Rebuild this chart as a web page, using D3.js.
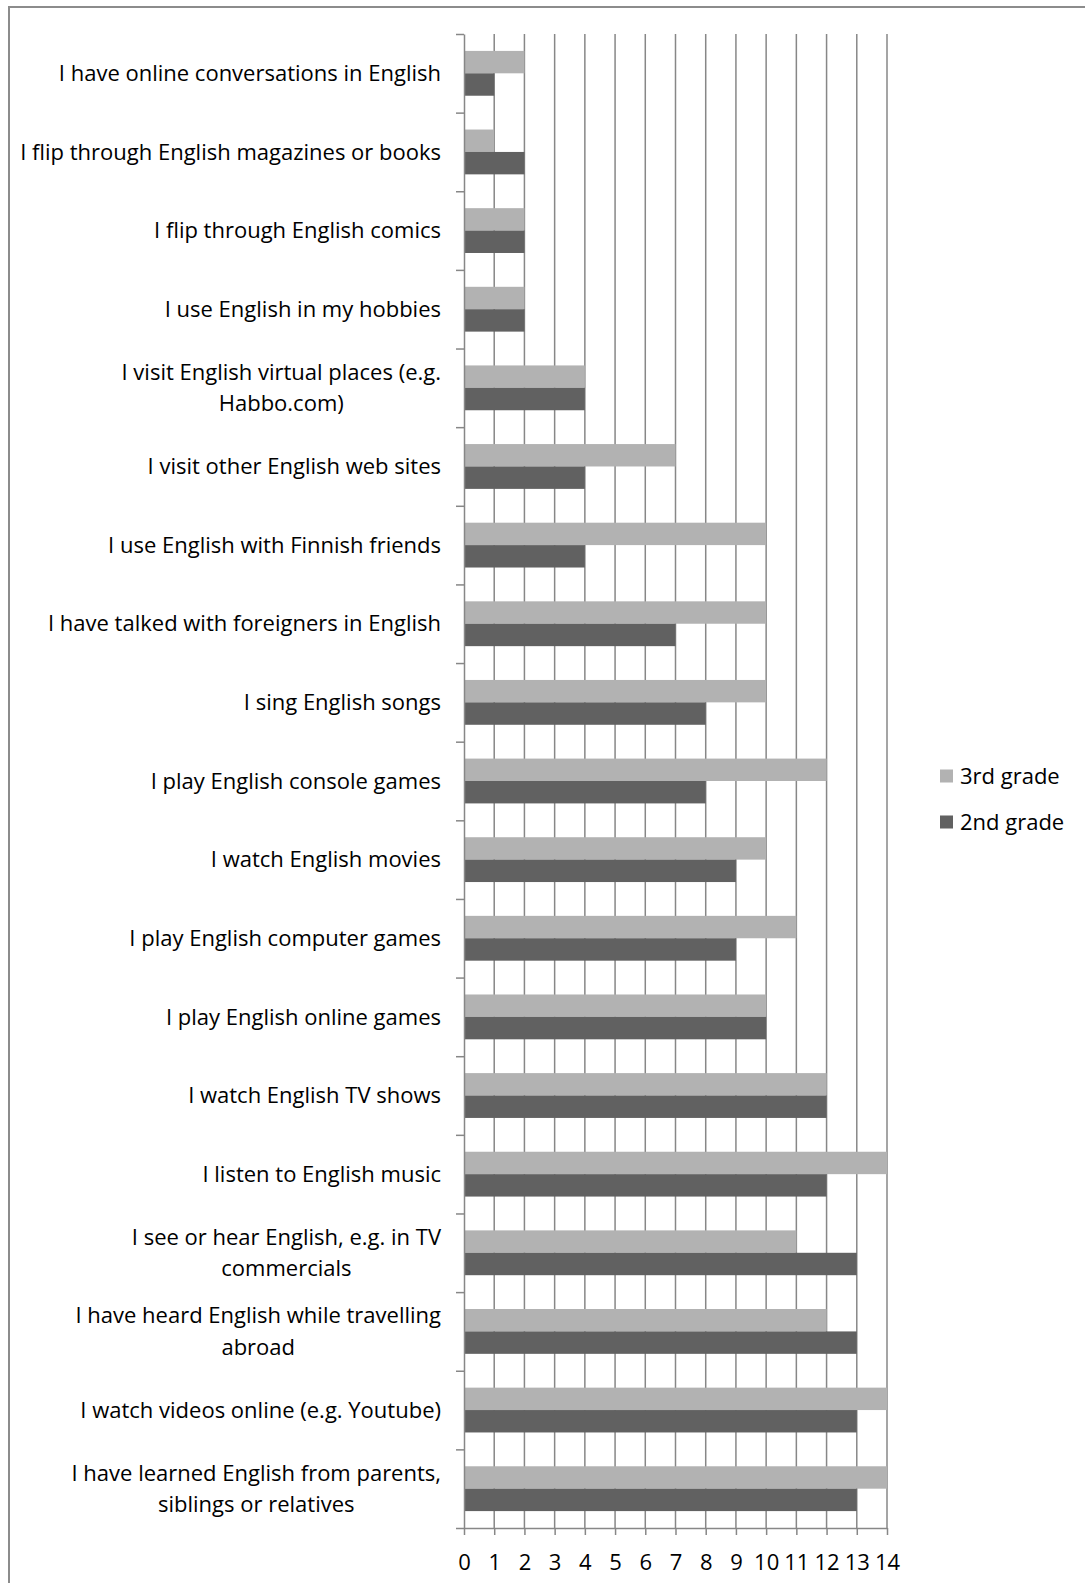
<!DOCTYPE html>
<html>
<head>
<meta charset="utf-8">
<script src="https://cdn.jsdelivr.net/npm/d3@7"></script>
<style>
  html, body { margin: 0; padding: 0; background: #fff; }
  svg { display: block; }
  text { font-family: "Open Sans", sans-serif; fill: #000; }
</style>
</head>
<body>
<svg id="chart" width="1085" height="1583"></svg>
<script>
// ---- data ----
const categories = [
  ["I have online conversations in English"],
  ["I flip through English magazines or books"],
  ["I flip through English comics"],
  ["I use English in my hobbies"],
  ["I visit English virtual places (e.g.", "Habbo.com)"],
  ["I visit other English web sites"],
  ["I use English with Finnish friends"],
  ["I have talked with foreigners in English"],
  ["I sing English songs"],
  ["I play English console games"],
  ["I watch English movies"],
  ["I play English computer games"],
  ["I play English online games"],
  ["I watch English TV shows"],
  ["I listen to English music"],
  ["I see or hear English, e.g. in TV", "commercials"],
  ["I have heard English while travelling", "abroad"],
  ["I watch videos online (e.g. Youtube)"],
  ["I have learned English from parents,", "siblings or relatives"]
];
const seriesNames = ["3rd grade", "2nd grade"];
const grade3 = [2, 1, 2, 2, 4, 7, 10, 10, 10, 12, 10, 11, 10, 12, 14, 11, 12, 14, 14];
const grade2 = [1, 2, 2, 2, 4, 4, 4, 7, 8, 8, 9, 9, 10, 12, 12, 13, 13, 13, 13];
const xTicks = d3.range(0, 15);

// ---- layout ----
const colors = {"3rd grade": "#b2b2b2", "2nd grade": "#616161"};
const gridColor = "#878787";
const plot = {left: 464, right: 887, top: 34, bottom: 1528};
const fontSize = 22;

const svg = d3.select("#chart");

// outer border
svg.append("rect")
  .attr("x", 9).attr("y", 7).attr("width", 1100).attr("height", 1600)
  .attr("fill", "none").attr("stroke", "#8c8c8c").attr("stroke-width", 2);

const x = d3.scaleLinear().domain([0, 14]).range([plot.left, plot.right]);
const idx = d3.range(categories.length);
const y = d3.scaleBand().domain(idx).range([plot.top, plot.bottom])
  .paddingInner(0.43).paddingOuter(0.215);
const ySub = d3.scaleBand().domain(seriesNames).range([0, y.bandwidth()]);
const yEdge = d3.scaleLinear().domain([0, categories.length]).range([plot.top, plot.bottom]);

// gridlines
svg.append("g").selectAll("line").data(xTicks.filter(d => d > 0)).join("line")
  .attr("x1", d => x(d)).attr("x2", d => x(d))
  .attr("y1", plot.top).attr("y2", plot.bottom)
  .attr("stroke", gridColor).attr("stroke-width", 1.5);

// bars
const rows = idx.map(i => ({i, vals: [
  {s: "3rd grade", v: grade3[i]},
  {s: "2nd grade", v: grade2[i]}
]}));
const g = svg.append("g").selectAll("g").data(rows).join("g")
  .attr("transform", d => `translate(0,${y(d.i)})`);
g.selectAll("rect").data(d => d.vals).join("rect")
  .attr("x", x(0))
  .attr("y", d => ySub(d.s))
  .attr("width", d => x(d.v) - x(0))
  .attr("height", ySub.bandwidth())
  .attr("fill", d => colors[d.s]);

// bottom axis
const xAxis = svg.append("g")
  .attr("transform", `translate(0,${plot.bottom})`)
  .call(d3.axisBottom(x).tickValues(xTicks).tickFormat(d3.format("d")).tickSize(7).tickSizeOuter(0));
xAxis.select(".domain").attr("stroke", gridColor).attr("stroke-width", 1.5);
xAxis.selectAll(".tick line").attr("stroke", gridColor).attr("stroke-width", 1.5);
xAxis.selectAll(".tick text")
  .attr("font-family", "Open Sans").attr("font-size", fontSize)
  .attr("fill", "#000").attr("y", 26).attr("dy", "0.71em");

// left axis (ticks at category boundaries)
const yAxis = svg.append("g")
  .attr("transform", `translate(${plot.left},0)`)
  .call(d3.axisLeft(yEdge).tickValues(d3.range(categories.length + 1)).tickFormat("").tickSize(8).tickSizeOuter(0));
yAxis.select(".domain").attr("stroke", gridColor).attr("stroke-width", 1.5);
yAxis.selectAll(".tick line").attr("stroke", gridColor).attr("stroke-width", 1.5);

// category labels
const labelRight = 441;
const lineH = 31.5;
const labels = svg.append("g").attr("font-size", fontSize);
idx.forEach(i => {
  const lines = categories[i];
  const cy = y(i) + y.bandwidth() / 2;
  const t = labels.append("text").attr("text-anchor", "end");
  if (lines.length === 1) {
    t.attr("x", labelRight).attr("y", cy).attr("dy", "0.35em").text(lines[0]);
  } else {
    // measure longest line, then centre all lines within it
    const tmp = labels.append("text").text(lines[0]);
    const w = tmp.node().getComputedTextLength();
    tmp.remove();
    const cx = labelRight - w / 2;
    t.attr("text-anchor", "middle");
    lines.forEach((ln, k) => {
      t.append("tspan").attr("x", cx)
        .attr("y", cy + (k - (lines.length - 1) / 2) * lineH)
        .attr("dy", "0.35em").text(ln);
    });
  }
});

// legend
const legend = svg.append("g").attr("font-size", fontSize);
seriesNames.forEach((s, k) => {
  const ly = 776 + k * 46;
  legend.append("rect").attr("x", 940).attr("y", ly - 6.5)
    .attr("width", 13).attr("height", 13).attr("fill", colors[s]);
  legend.append("text").attr("x", 960).attr("y", ly).attr("dy", "0.35em").text(s);
});
</script>
</body>
</html>
